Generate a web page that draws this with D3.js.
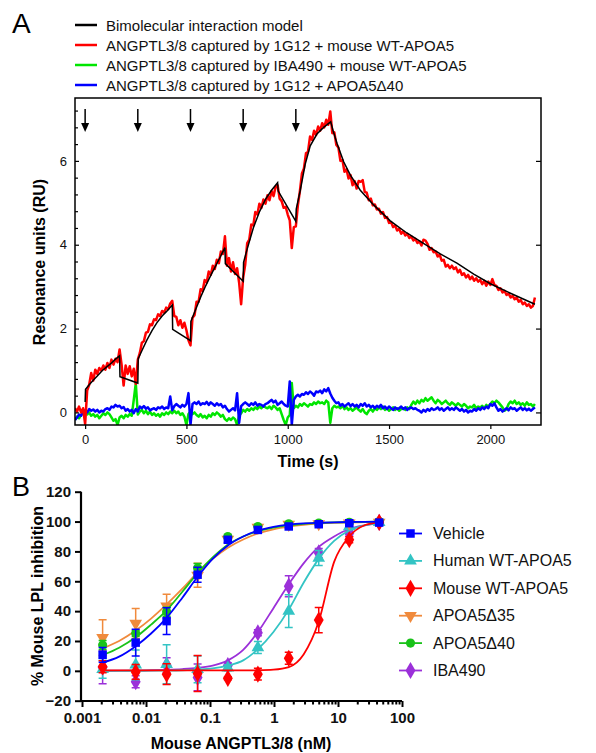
<!DOCTYPE html>
<html>
<head>
<meta charset="utf-8">
<script src="https://cdn.jsdelivr.net/npm/d3@7"></script>
<style>
  body { margin: 0; background: #fff; }
  svg { font-family: "Liberation Sans", Arial, sans-serif; }
</style>
</head>
<body>
<div id="chart"></div>
<script>
// ---------- panel A : SPR sensorgram ----------
const timeStart = -50, timeStep = 10;   // one value every 10 s

const redRU = [
  0.1, 0.02, 0.14, 0.0, 0.1, -0.28, 0.52, 0.66, 0.94, 0.76,
  1.02, 0.92, 1.06, 1.0, 1.12, 1.02, 1.18, 1.06, 1.26, 1.14,
  1.28, 1.2, 1.5, 1.14, 0.64, 1.12, 0.92, 1.1, 0.86, 1.04,
  0.68, 1.26, 1.42, 1.66, 1.7, 1.9, 1.92, 2.1, 2.08, 2.22,
  2.2, 2.34, 2.3, 2.42, 2.38, 2.5, 2.46, 2.6, 2.66, 2.3,
  2.28, 2.08, 2.2, 2.02, 2.14, 1.96, 1.72, 1.6, 2.26, 2.32,
  2.64, 2.64, 2.94, 2.9, 3.16, 3.1, 3.36, 3.28, 3.5, 3.42,
  3.64, 3.56, 3.84, 3.78, 4.2, 3.5, 3.68, 3.36, 3.58, 3.3,
  3.44, 3.1, 2.58, 3.22, 3.52, 4.04, 4.12, 4.48, 4.46, 4.78,
  4.72, 4.98, 4.88, 5.08, 4.98, 5.18, 5.06, 5.28, 5.16, 5.38,
  5.42, 5.1, 5.04, 4.88, 4.9, 4.72, 4.58, 3.92, 4.42, 4.44,
  4.94, 5.28, 5.7, 5.82, 6.18, 6.22, 6.58, 6.5, 6.72, 6.62,
  6.82, 6.72, 6.9, 6.8, 6.98, 6.86, 7.18, 6.66, 6.68, 6.38,
  6.32, 6.0, 6.02, 5.74, 5.8, 5.58, 5.66, 5.42, 5.52, 5.34,
  5.52, 5.5, 5.54, 5.26, 5.24, 5.06, 5.1, 4.94, 4.96, 4.84,
  4.86, 4.74, 4.78, 4.64, 4.66, 4.52, 4.54, 4.42, 4.46, 4.34,
  4.38, 4.26, 4.32, 4.22, 4.26, 4.16, 4.2, 4.1, 4.14, 4.04,
  4.08, 3.98, 4.12, 4.1, 4.02, 3.88, 3.92, 3.82, 3.84, 3.72,
  3.76, 3.62, 3.64, 3.48, 3.52, 3.44, 3.5, 3.42, 3.46, 3.34,
  3.4, 3.28, 3.32, 3.22, 3.28, 3.18, 3.24, 3.14, 3.2, 3.12,
  3.16, 3.06, 3.14, 3.02, 3.12, 3.04, 3.18, 3.04, 3.02, 2.92,
  2.96, 2.86, 2.9, 2.8, 2.84, 2.74, 2.78, 2.7, 2.74, 2.64,
  2.68, 2.58, 2.62, 2.54, 2.58, 2.5, 2.54, 2.74
];

const greenRU = [
  -0.18, -0.1, -0.14, -0.06, -0.02, 0.04, -0.05, 0.0, -0.08, -0.04,
  -0.1, -0.06, -0.14, -0.08, -0.02, -0.06, 0.0, -0.04, -0.12, -0.2,
  -0.16, -0.3, -0.12, -0.08, -0.14, -0.06, -0.1, -0.04, -0.08, 0.3,
  0.7, -0.05, 0.02, 0.06, -0.02, 0.04, -0.04, 0.02, -0.06, -0.02,
  -0.08, -0.04, -0.1, -0.02, -0.06, 0.0, -0.04, 0.02, -0.02, 0.04,
  -0.02, 0.02, -0.06, -0.02, -0.1, -0.3, -0.04, 0.02, -0.04, 0.0,
  -0.06, -0.1, -0.04, -0.12, -0.08, -0.14, -0.06, -0.1, -0.02, -0.06,
  0.0, -0.04, -0.1, -0.06, -0.16, -0.2, -0.14, -0.18, -0.12, -0.16,
  -0.3, -0.08, -0.02, 0.06, 0.02, 0.08, 0.04, 0.1, 0.06, 0.12,
  0.08, 0.14, 0.1, 0.16, 0.12, 0.1, 0.14, 0.08, 0.16, 0.12,
  0.06, 0.1, -0.04, -0.18, -0.3, -0.12, -0.06, 0.7, 0.1, 0.16,
  0.12, 0.2, 0.16, 0.22, 0.18, 0.14, 0.2, 0.18, 0.24, 0.2,
  0.26, 0.22, 0.24, 0.2, 0.28, 0.24, -0.25, 0.1, 0.16, 0.12,
  0.14, 0.1, 0.16, 0.08, 0.12, 0.06, 0.1, 0.04, 0.08, 0.12,
  0.06, 0.02, 0.08, 0.0, -0.04, 0.04, 0.08, 0.02, 0.1, 0.06,
  0.12, 0.08, 0.14, 0.06, 0.1, 0.04, 0.08, 0.12, 0.06, 0.1,
  0.04, 0.08, 0.1, 0.06, 0.12, 0.08, 0.18, 0.26, 0.2, 0.28,
  0.22, 0.3, 0.26, 0.34, 0.28, 0.32, 0.36, 0.28, 0.22, 0.3,
  0.26, 0.2, 0.24, 0.28, 0.22, 0.18, 0.24, 0.2, 0.16, 0.22,
  0.18, 0.14, 0.2, 0.16, 0.1, 0.14, 0.12, 0.18, 0.1, 0.14,
  0.12, 0.16, 0.1, 0.18, 0.14, 0.2, 0.26, 0.22, 0.28, 0.24,
  0.18, 0.12, 0.04, 0.08, 0.2, 0.26, 0.22, 0.28, 0.2, 0.24,
  0.18, 0.22, 0.16, 0.24, 0.18, 0.2, 0.14, 0.2
];

const blueRU = [
  -0.18, -0.12, -0.05, -0.08, 0.02, 0.05, 0.0, 0.08, 0.04, 0.07,
  0.02, 0.06, 0.0, 0.04, 0.02, 0.08, 0.1, 0.06, 0.14, 0.12,
  0.18, 0.14, 0.16, 0.1, 0.13, 0.04, 0.08, 0.02, 0.06, -0.02,
  0.08, 0.02, 0.14, 0.1, 0.15, 0.09, 0.12, 0.05, 0.08, 0.1,
  0.06, 0.12, 0.1, 0.14, 0.08, 0.12, 0.1, 0.38, 0.05, 0.15,
  0.2, 0.16, 0.12, 0.18, 0.14, 0.2, 0.46, -0.3, 0.2, 0.24,
  0.2, 0.26, 0.18, 0.22, 0.2, 0.25, 0.18, 0.24, 0.2, 0.16,
  0.22, 0.17, 0.2, 0.12, 0.16, 0.08, 0.02, 0.06, 0.1, 0.05,
  0.46, -0.25, 0.15, 0.2, 0.24, 0.2, 0.16, 0.22, 0.18, 0.24,
  0.16, 0.2, 0.18, 0.14, 0.2, 0.22, 0.26, 0.3, 0.24, 0.28,
  0.18, 0.22, 0.26, 0.2, 0.16, 0.14, 0.74, -0.3, 0.3, 0.38,
  0.42, 0.38, 0.44, 0.42, 0.48, 0.44, 0.5, 0.46, 0.4, 0.5,
  0.48, 0.52, 0.46, 0.55, 0.5, 0.58, 0.45, 0.35, 0.28, 0.22,
  0.24, 0.16, 0.2, 0.14, 0.18, 0.22, 0.15, 0.2, 0.14, 0.18,
  0.12, 0.2, 0.16, 0.22, 0.14, 0.18, 0.12, 0.16, 0.1, 0.16,
  0.12, 0.18, 0.1, 0.14, 0.08, 0.14, 0.1, 0.06, 0.12, 0.08,
  0.1, 0.14, 0.08, 0.12, 0.06, 0.1, 0.12, 0.08, 0.1, 0.06,
  0.04, 0.0, 0.06, 0.02, 0.08, 0.04, 0.1, 0.06, 0.08, 0.12,
  0.06, 0.1, 0.04, 0.08, 0.12, 0.06, 0.1, 0.06, 0.12, 0.08,
  0.04, 0.08, 0.02, 0.06, 0.0, 0.04, 0.02, 0.08, 0.04, 0.1,
  0.06, 0.12, 0.08, 0.14, 0.1, 0.2, 0.16, 0.22, 0.12, 0.04,
  0.08, 0.02, 0.06, 0.1, 0.05, 0.12, 0.08, 0.1, 0.04, 0.08,
  0.12, 0.06, 0.1, 0.05, 0.09, 0.04, 0.08, 0.12
];

// fitted bimolecular model (black)
const modelTimes = [0, 2, 20, 40, 60, 85, 110, 130, 150, 170, 172, 260,
  262, 280, 304, 330, 353, 380, 402, 430, 432, 520,
  522, 545, 570, 595, 620, 645, 668, 690, 692, 780,
  782, 800, 830, 860, 890, 920, 950, 953, 1040,
  1042, 1062, 1086, 1111, 1144, 1177, 1212,
  1225, 1243, 1276, 1309, 1358, 1424, 1506, 1588, 1670, 1753, 1835, 1918, 2000, 2083, 2165, 2220];
const modelRU = [0.25, 0.55, 0.66, 0.77, 0.87, 1.0, 1.1, 1.18, 1.27, 1.35, 0.85, 0.7,
  1.28, 1.47, 1.72, 1.95, 2.13, 2.3, 2.41, 2.56, 1.98, 1.71,
  2.17, 2.45, 2.75, 3.02, 3.27, 3.5, 3.72, 3.93, 3.55, 3.13,
  3.58, 3.9, 4.4, 4.78, 5.08, 5.3, 5.48, 5.28, 4.56,
  4.85, 5.3, 5.92, 6.36, 6.64, 6.8, 6.93,
  6.7, 6.42, 5.98, 5.66, 5.3, 4.95, 4.57, 4.28, 4.03, 3.78, 3.56, 3.3, 3.07, 2.88, 2.7, 2.58];

const injectionTimes = [0, 260, 520, 780, 1040];
const timeTicks = [0, 500, 1000, 1500, 2000];
const ruTicks = [0, 2, 4, 6];

const legendALabels = [
  "Bimolecular interaction model",
  "ANGPTL3/8 captured by 1G12 + mouse WT-APOA5",
  "ANGPTL3/8 captured by IBA490 + mouse WT-APOA5",
  "ANGPTL3/8 captured by 1G12 + APOA5\u039440"
];
const legendAColors = ["#000000", "#ff0000", "#00e600", "#0000ff"];

// ---------- panel B : LPL inhibition ----------
const concB = [0.0021, 0.0069, 0.021, 0.064, 0.19, 0.56, 1.7, 5.0, 15, 44];

const vehicleMean = [10.7, 18.9, 33.3, 64.4, 87.8, 94.4, 96.7, 98.2, 98.9, 99.3];
const vehicleSD   = [5, 9, 9, 5, 2, 2, 1, 1, 1, 1];
const humanMean   = [1, 4, 4.4, 1, 2, 15.6, 40, 75.6, 96.7, 99.5];
const humanSD     = [6, 10, 13, 9, 2, 4, 11, 5, 2, 1];
const mouseMean   = [2.7, -0.7, -2.2, -1.8, -5, -2.2, 8.4, 34, 87.8, 99.5];
const mouseSD     = [4, 5, 7, 12, 1, 4, 4, 8.5, 2, 1];
const d35Mean     = [22.2, 31.8, 43.3, 64, 88, 96, 98, 98.5, 99, 99.5];
const d35SD       = [12, 10, 8, 8, 2, 2, 1, 1, 1, 1];
const d40Mean     = [17.3, 25.1, 39.6, 68.9, 90, 96.7, 98.5, 99, 99.5, 100];
const d40SD       = [3, 2, 3, 3, 1, 1, 1, 1, 1, 1];
const ibaMean     = [2.4, -7.3, 3.8, -4.4, 3.5, 25.5, 56.7, 79, 92.2, 99.5];
const ibaSD       = [11, 4, 5, 9, 2, 2, 7, 3, 2, 1];

// fitted curves, sampled on the picture
const fitConc = [0.0021, 0.0038, 0.0069, 0.012, 0.021, 0.037, 0.064, 0.11, 0.19, 0.33,
  0.56, 0.98, 1.7, 2.9, 5.0, 8.7, 15, 26, 44];
const vehicleFit = [5.5, 9.5, 16.5, 25, 35.5, 49, 63, 75, 84, 90, 94, 96.5, 98, 98.8, 99.2, 99.5, 99.7, 99.8, 99.9];
const humanFit   = [0, 0, 0.05, 0.1, 0.2, 0.4, 0.8, 1.6, 3.5, 7, 14.5, 26, 41, 59, 75, 87, 94, 97.5, 99];
const mouseFit   = [0.3, 0.3, 0.3, 0.3, 0.3, 0.3, 0.3, 0.3, 0.3, 0.3, 0.4, 0.8, 2.5, 11, 33, 73, 90, 97.5, 99.5];
const d35Fit     = [15, 20, 27, 35, 44.5, 55, 66, 75, 82.5, 88, 92, 94.8, 96.6, 97.8, 98.6, 99.1, 99.4, 99.6, 99.8];
const d40Fit     = [10.5, 15.5, 22.5, 31, 40.5, 53, 65.5, 76, 84.5, 90, 93.5, 96, 97.5, 98.5, 99, 99.4, 99.6, 99.8, 99.9];
const ibaFit     = [0.05, 0.1, 0.2, 0.4, 0.7, 1.2, 2, 3.5, 7, 14, 26, 42, 58, 72, 83, 90, 95, 97.5, 99];

const inhibTicks = [-20, 0, 20, 40, 60, 80, 100, 120];
const concTicks = [0.001, 0.01, 0.1, 1, 10, 100];
const concTickLabels = ["0.001", "0.01", "0.1", "1", "10", "100"];

const seriesB = [
  {name: "Vehicle",        color: "#0000ff", shape: "square",   mean: vehicleMean, sd: vehicleSD, fit: vehicleFit},
  {name: "Human WT-APOA5", color: "#33c4c4", shape: "triangle", mean: humanMean,   sd: humanSD,   fit: humanFit},
  {name: "Mouse WT-APOA5", color: "#ff0000", shape: "diamond",  mean: mouseMean,   sd: mouseSD,   fit: mouseFit},
  {name: "APOA5\u039435",  color: "#f08a3c", shape: "down",     mean: d35Mean,     sd: d35SD,     fit: d35Fit},
  {name: "APOA5\u039440",  color: "#19c219", shape: "circle",   mean: d40Mean,     sd: d40SD,     fit: d40Fit},
  {name: "IBA490",         color: "#9b30d9", shape: "diamond",  mean: ibaMean,     sd: ibaSD,     fit: ibaFit}
];
// drawing order (last on top)
const drawOrder = [5, 1, 3, 4, 2, 0];

// ======================================================
const svg = d3.select("#chart").append("svg")
  .attr("width", 596).attr("height", 753);

// ---------------- panel A ----------------
const xA = d3.scaleLinear().domain([-50, 2250]).range([75, 541]);
const yA = d3.scaleLinear().domain([-0.3, 7.5]).range([425, 98]);

const gA = svg.append("g");

svg.append("text").attr("x", 12).attr("y", 33)
  .attr("font-size", 28).text("A");

// legend
legendALabels.forEach((lab, i) => {
  const y = 25 + i * 20;
  gA.append("line").attr("x1", 75).attr("x2", 97).attr("y1", y).attr("y2", y)
    .attr("stroke", legendAColors[i]).attr("stroke-width", 2.5);
  gA.append("text").attr("x", 106).attr("y", y + 5.5)
    .attr("font-size", 15).attr("fill", "#111").text(lab);
});

svg.append("clipPath").attr("id", "clipA")
  .append("rect").attr("x", 75).attr("y", 98).attr("width", 466).attr("height", 327);

const traceLine = d3.line()
  .x((d, i) => xA(timeStart + i * timeStep))
  .y(d => yA(d));

const traces = gA.append("g").attr("clip-path", "url(#clipA)");
[[greenRU, "#00e600"], [blueRU, "#0000ff"], [redRU, "#ff0000"]].forEach(([arr, col]) => {
  traces.append("path").datum(arr)
    .attr("d", traceLine)
    .attr("fill", "none").attr("stroke", col)
    .attr("stroke-width", 2.5).attr("stroke-linejoin", "round");
});

const modelLine = d3.line()
  .x((d, i) => xA(modelTimes[i]))
  .y(d => yA(d));
traces.append("path").datum(modelRU)
  .attr("d", modelLine)
  .attr("fill", "none").attr("stroke", "#000").attr("stroke-width", 1.5);

// frame
gA.append("rect").attr("x", 75).attr("y", 98).attr("width", 466).attr("height", 327)
  .attr("fill", "none").attr("stroke", "#000").attr("stroke-width", 1.5);

// axes
const axA_bottom = gA.append("g").attr("transform", "translate(0,425)")
  .call(d3.axisBottom(xA).tickValues(timeTicks).tickSize(4).tickSizeOuter(0).tickFormat(d3.format("d")));
gA.append("g").attr("transform", "translate(75,0)")
  .call(d3.axisLeft(yA).tickValues(ruTicks).tickSize(-4).tickSizeOuter(0).tickPadding(8));
gA.append("g").attr("transform", "translate(75,0)")
  .call(d3.axisLeft(yA).tickValues(d3.range(0, 7.3, 0.4).filter(v => Math.abs(v / 2 - Math.round(v / 2)) > 0.01))
    .tickSize(-3).tickFormat("").tickSizeOuter(0));
gA.append("g").attr("transform", "translate(541,0)")
  .call(d3.axisRight(yA).tickValues(ruTicks).tickSize(-5).tickFormat("").tickSizeOuter(0));
gA.selectAll(".domain").remove();
gA.selectAll(".tick line").attr("stroke", "#000").attr("stroke-width", 1.2);
gA.selectAll(".tick text").attr("font-size", 13).attr("fill", "#111")
  .attr("font-family", "Liberation Sans, Arial, sans-serif");
axA_bottom.selectAll(".tick text").attr("dy", "0.9em").attr("y", 7);

gA.append("text").attr("x", 308).attr("y", 467)
  .attr("text-anchor", "middle").attr("font-size", 16).attr("font-weight", "bold")
  .text("Time (s)");
gA.append("text").attr("transform", "translate(45,262) rotate(-90)")
  .attr("text-anchor", "middle").attr("font-size", 16).attr("font-weight", "bold")
  .text("Resonance units (RU)");

// injection arrows
const arrows = gA.selectAll(".arrow").data(injectionTimes).enter().append("g");
arrows.append("line")
  .attr("x1", d => xA(d)).attr("x2", d => xA(d))
  .attr("y1", 109).attr("y2", 125)
  .attr("stroke", "#000").attr("stroke-width", 1.5);
arrows.append("path")
  .attr("d", d => `M${xA(d) - 4},123 L${xA(d) + 4},123 L${xA(d)},132 Z`)
  .attr("fill", "#000");

// ---------------- panel B ----------------
const xB = d3.scaleLog().domain([0.001, 100]).range([82, 402]);
const yB = d3.scaleLinear().domain([-20, 120]).range([700.7, 491.7]);

const gB = svg.append("g");
svg.append("text").attr("x", 12).attr("y", 496)
  .attr("font-size", 27).text("B");

// axes
const axB_left = gB.append("g").attr("transform", "translate(81,0)")
  .call(d3.axisLeft(yB).tickValues(inhibTicks).tickSize(6).tickSizeOuter(0).tickPadding(4));
const axB_bottom = gB.append("g").attr("transform", "translate(0,701)")
  .call(d3.axisBottom(xB).tickValues(concTicks).tickSize(6).tickSizeOuter(0)
    .tickFormat((d, i) => concTickLabels[i]).tickPadding(5));
const minorConc = [];
concTicks.slice(0, -1).forEach(c => { for (let k = 2; k <= 9; k++) minorConc.push(c * k); });
gB.append("g").attr("transform", "translate(0,701)")
  .call(d3.axisBottom(xB).tickValues(minorConc).tickSize(3.5).tickFormat("").tickSizeOuter(0))
  .select(".domain").remove();
gB.selectAll(".domain").attr("stroke", "#000").attr("stroke-width", 2.2);
axB_left.select(".domain").attr("d", "M0,701.7V491.7");
axB_bottom.select(".domain").attr("d", "M80,0H402");
gB.selectAll(".tick line").attr("stroke", "#000").attr("stroke-width", 2);
gB.selectAll(".tick text").attr("font-size", 15).attr("font-weight", "bold").attr("fill", "#111")
  .attr("font-family", "Liberation Sans, Arial, sans-serif");

gB.append("text").attr("x", 241).attr("y", 749)
  .attr("text-anchor", "middle").attr("font-size", 16).attr("font-weight", "bold")
  .text("Mouse ANGPTL3/8 (nM)");
gB.append("text").attr("transform", "translate(43,596) rotate(-90)")
  .attr("text-anchor", "middle").attr("font-size", 16).attr("font-weight", "bold")
  .text("% Mouse LPL inhibition");

function symbolPath(shape) {
  if (shape === "square") return d3.symbol(d3.symbolSquare, 72)();
  if (shape === "triangle") return d3.symbol(d3.symbolTriangle, 70)();
  if (shape === "down") return d3.symbol(d3.symbolTriangle, 70)();
  if (shape === "circle") return d3.symbol(d3.symbolCircle, 66)();
  return d3.symbol(d3.symbolDiamond, 85)();
}
function symbolTransform(shape, x, y) {
  return shape === "down" ? `translate(${x},${y}) rotate(180)` : `translate(${x},${y})`;
}

const fitLine = d3.line()
  .x((d, i) => xB(fitConc[i]))
  .y(d => yB(d))
  .curve(d3.curveMonotoneX);

drawOrder.forEach(si => {
  const s = seriesB[si];
  const g = gB.append("g");
  g.append("path").datum(s.fit).attr("d", fitLine)
    .attr("fill", "none").attr("stroke", s.color).attr("stroke-width", 1.8);
  s.mean.forEach((m, i) => {
    const x = xB(concB[i]);
    const y0 = yB(m - s.sd[i]), y1 = yB(m + s.sd[i]);
    g.append("path")
      .attr("d", `M${x},${y0}V${y1}M${x - 4},${y0}H${x + 4}M${x - 4},${y1}H${x + 4}`)
      .attr("fill", "none").attr("stroke", s.color).attr("stroke-width", 1.5);
  });
  g.selectAll(".pt").data(s.mean).enter().append("path")
    .attr("d", symbolPath(s.shape))
    .attr("transform", (d, i) => symbolTransform(s.shape, xB(concB[i]), yB(d)))
    .attr("fill", s.color);
});

// legend B
seriesB.forEach((s, i) => {
  const y = 533.5 + i * 27.4;
  gB.append("line").attr("x1", 399).attr("x2", 422).attr("y1", y).attr("y2", y)
    .attr("stroke", s.color).attr("stroke-width", 1.8);
  gB.append("path").attr("d", symbolPath(s.shape))
    .attr("transform", symbolTransform(s.shape, 410.5, y)).attr("fill", s.color);
  gB.append("text").attr("x", 433).attr("y", y + 5.5)
    .attr("font-size", 16).attr("fill", "#111").text(s.name);
});
</script>
</body>
</html>
